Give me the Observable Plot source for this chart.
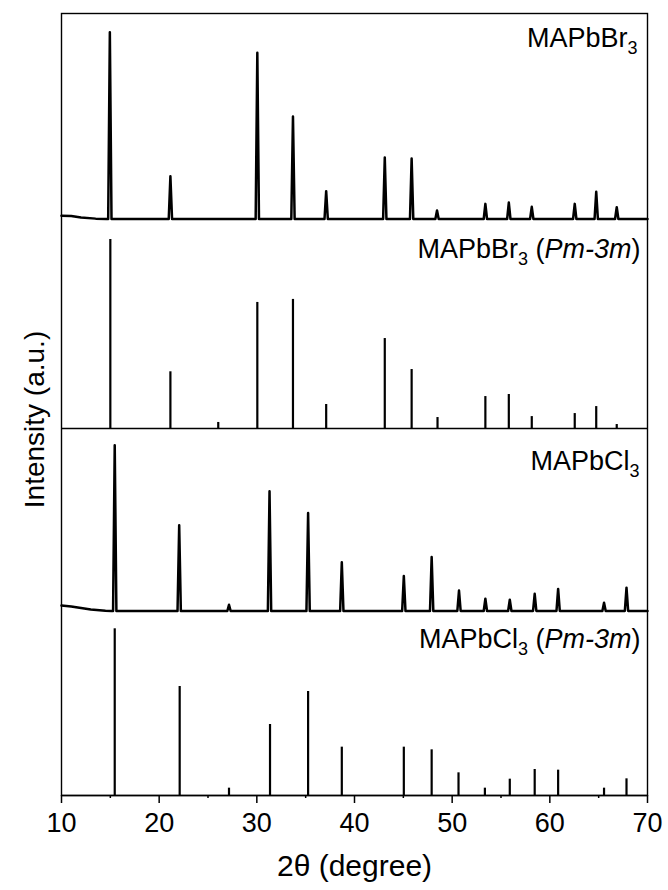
<!DOCTYPE html>
<html><head><meta charset="utf-8">
<script src="https://cdn.jsdelivr.net/npm/d3@7"></script>
<script src="https://cdn.jsdelivr.net/npm/@observablehq/plot@0.6"></script>
<style>body{margin:0;background:#fff} svg{display:block}</style>
</head><body><div id="chart"></div>
<script>
// ---------- data ----------
const xTicks = [10, 20, 30, 40, 50, 60, 70];
const xMinorTicks = [15, 25, 35, 45, 55, 65];

// MAPbBr3 measured pattern: peak positions (2θ) and relative intensities (%)
const brExpPos = [14.95, 21.15, 30.05, 33.7, 37.1, 43.1, 45.85, 48.45, 53.4, 55.8, 58.15, 62.55, 64.75, 66.85];
const brExpInt = [100, 22.9, 89, 54.9, 14.9, 32.9, 32.4, 4.6, 8.1, 8.8, 6.5, 8.1, 14.6, 6.3];
const brExpBgPos = [10, 11, 12, 13.5, 14.6];
const brExpBgInt = [1.8, 1.6, 0.8, 0.2, 0];

// MAPbBr3 (Pm-3m) reference sticks
const brRefPos = [15.0, 21.15, 26.05, 30.05, 33.7, 37.1, 43.1, 45.85, 48.5, 53.4, 55.8, 58.15, 62.55, 64.75, 66.85];
const brRefInt = [100, 30, 3.2, 66.7, 68.3, 12.7, 47.6, 31.2, 5.8, 16.9, 18, 6.3, 7.9, 11.6, 2.1];

// MAPbCl3 measured pattern
const clExpPos = [15.45, 22.05, 27.15, 31.3, 35.25, 38.7, 45.05, 47.9, 50.7, 53.4, 55.9, 58.45, 60.85, 65.55, 67.85];
const clExpInt = [100, 51.7, 3.8, 72.2, 59.1, 29.4, 21.1, 32.6, 12.3, 7.4, 6.8, 10.4, 13.3, 5.0, 14.1];
const clExpBgPos = [10, 11, 12, 13, 14.5, 15.1];
const clExpBgInt = [3.3, 2.7, 1.8, 0.9, 0.2, 0];

// MAPbCl3 (Pm-3m) reference sticks
const clRefPos = [15.45, 22.1, 27.15, 31.35, 35.25, 38.7, 45.05, 47.9, 50.65, 53.35, 55.9, 58.45, 60.85, 65.55, 67.85];
const clRefInt = [100, 65.4, 4.4, 42.6, 62.4, 29, 29, 27.4, 13.6, 4.4, 9.8, 15.6, 15.2, 4.4, 10];

// panel labels as [text, style] segments
const brExpLabel = [["MAPbBr", ""], ["3", "sub"]];
const brRefLabel = [["MAPbBr", ""], ["3", "sub"], [" (", ""], ["Pm-3m", "it"], [")", ""]];
const clExpLabel = [["MAPbCl", ""], ["3", "sub"]];
const clRefLabel = [["MAPbCl", ""], ["3", "sub"], [" (", ""], ["Pm-3m", "it"], [")", ""]];

const xLabel = "2θ (degree)";
const yLabel = "Intensity (a.u.)";

// ---------- layout (stack offsets / scale factors) ----------
const FONT = "'Liberation Sans', Arial, Helvetica, sans-serif";
const peakHalfWidth = 0.17;
const panels = [
  {kind: "exp", pos: brExpPos, int: brExpInt, bgPos: brExpBgPos, bgInt: brExpBgInt, base: 576.5, scale: 1.868, labelY: 757, dx: -10, label: brExpLabel},
  {kind: "ref", pos: brRefPos, int: brRefInt, base: 367, scale: 1.89, labelY: 546, dx: -7, label: brRefLabel},
  {kind: "exp", pos: clExpPos, int: clExpInt, bgPos: clExpBgPos, bgInt: clExpBgInt, base: 184.5, scale: 1.657, labelY: 334, dx: -8, label: clExpLabel},
  {kind: "ref", pos: clRefPos, int: clRefInt, base: 0, scale: 1.667, labelY: 156, dx: -7, label: clRefLabel}
];
panels.forEach((p, i) => { p.id = i; p.plain = p.label.map(s => s[0]).join(""); });

// measured traces: background points followed by peak spikes
const tracePts = [];
panels.filter(p => p.kind === "exp").forEach(p => {
  p.bgPos.forEach((x, j) => tracePts.push({panel: p.id, x, y: p.base + p.bgInt[j] * p.scale}));
  p.pos.forEach((x, j) => {
    tracePts.push({panel: p.id, x: x - peakHalfWidth, y: p.base});
    tracePts.push({panel: p.id, x, y: p.base + p.int[j] * p.scale});
    tracePts.push({panel: p.id, x: x + peakHalfWidth, y: p.base});
  });
  tracePts.push({panel: p.id, x: 70, y: p.base});
});

// reference sticks
const sticks = [];
panels.filter(p => p.kind === "ref").forEach(p => {
  p.pos.forEach((x, j) => sticks.push({x, y1: p.base, y2: p.base + p.int[j] * p.scale}));
});

const chart = Plot.plot({
  width: 668, height: 890,
  marginLeft: 61, marginRight: 21, marginTop: 13, marginBottom: 95,
  style: {fontFamily: FONT, fontSize: "26px", background: "white", color: "black"},
  x: {domain: [10, 70], label: null},
  y: {domain: [0, 782], axis: null},
  marks: [
    Plot.line(tracePts, {x: "x", y: "y", z: "panel", stroke: "black", strokeWidth: 2.5, curve: "linear"}),
    Plot.ruleX(sticks, {x: "x", y1: "y1", y2: "y2", stroke: "black", strokeWidth: 2.2}),
    Plot.ruleY(panels.filter(p => p.kind === "ref"), {y: "base", stroke: "black", strokeWidth: 1.5}),
    Plot.frame({stroke: "black", strokeWidth: 1.4}),
    Plot.axisX({ticks: xTicks, tickSize: 8, tickPadding: 9, strokeWidth: 1.5, fontSize: 27, label: null}),
    Plot.axisX({ticks: xMinorTicks, tickSize: 3, strokeWidth: 1.5, tickFormat: () => "", label: null}),
    Plot.text(panels, {frameAnchor: "right", y: "labelY", text: "plain", textAnchor: "end", lineAnchor: "middle", fontSize: 27}),
    Plot.text([xLabel], {text: d => d, frameAnchor: "bottom", textAnchor: "middle", lineAnchor: "middle", dy: 71, fontSize: 30}),
    Plot.text([yLabel], {text: d => d, frameAnchor: "left", textAnchor: "middle", lineAnchor: "middle", rotate: -90, dx: -26, dy: 15, fontSize: 28})
  ]
});

// rich text for panel labels (subscripts, italics) and per-label right offset
const NS = "http://www.w3.org/2000/svg";
chart.querySelectorAll("text").forEach(t => {
  const p = panels.find(q => q.plain === t.textContent);
  if (!p) return;
  t.textContent = "";
  t.setAttribute("x", +(t.getAttribute("x") || 0) + p.dx);
  let shifted = false;
  p.label.forEach(([s, st]) => {
    const ts = document.createElementNS(NS, "tspan");
    ts.textContent = s;
    if (st === "sub") { ts.setAttribute("font-size", "18"); ts.setAttribute("dy", "7"); shifted = true; }
    else if (shifted) { ts.setAttribute("dy", "-7"); shifted = false; }
    if (st === "it") ts.setAttribute("font-style", "italic");
    t.appendChild(ts);
  });
});

document.getElementById("chart").appendChild(chart);
</script>
</body></html>
